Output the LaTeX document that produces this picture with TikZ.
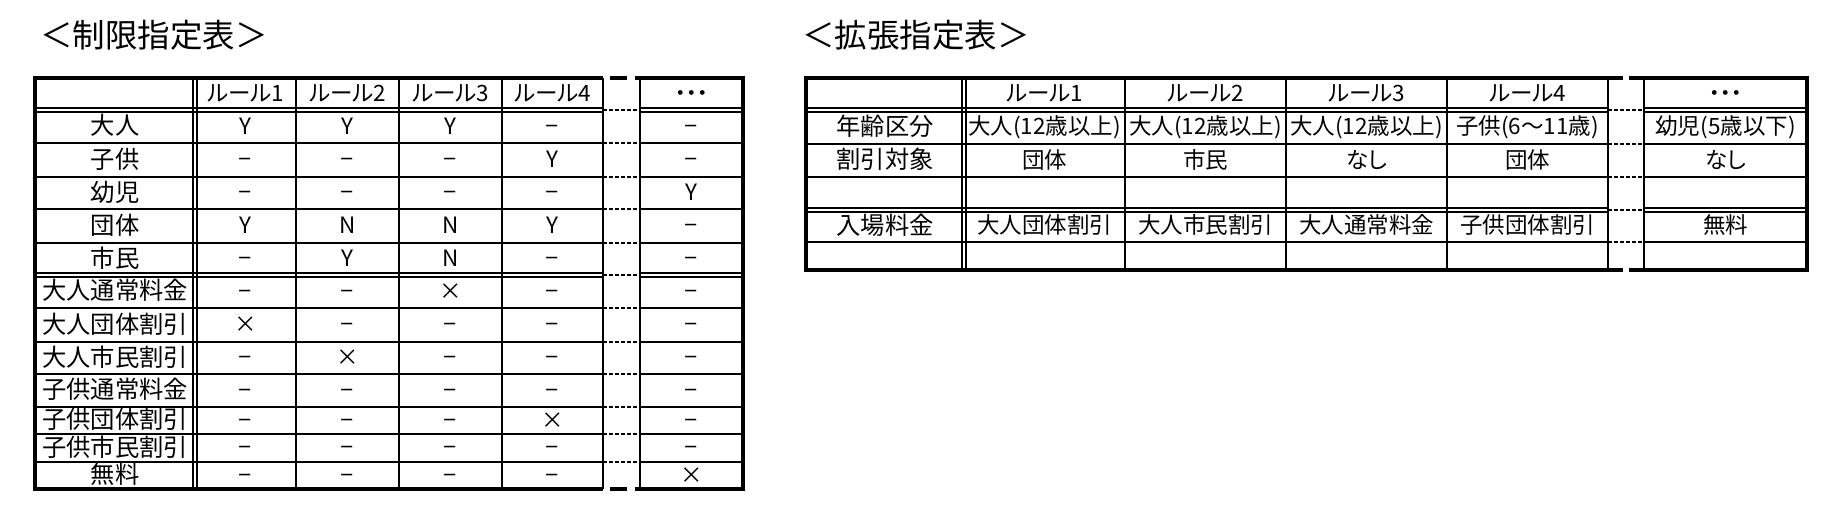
\documentclass[tikz,border=0pt]{standalone}
\usepackage{fontspec}
\setmainfont[RawFeature=+palt]{Noto Sans CJK JP}
\newcommand{\dsh}{\scalebox{0.68}[1]{－}}
\begin{document}
\begin{tikzpicture}[x=1pt,y=-1pt,
  cell/.style={font=\fontsize{22.5}{24}\selectfont, inner sep=0pt, text height=17.5pt, text depth=2.2pt, anchor=center},
  lab/.style={cell, font=\fontsize{24.3}{26}\selectfont, text height=18.9pt, text depth=2.4pt},
  ttl/.style={font=\fontsize{32.5}{34}\selectfont, inner sep=0pt},
  outer/.style={line width=3.4pt, line join=miter},
  inner/.style={line width=2pt},
  dbl/.style={line width=1.3pt},
  gapline/.style={line width=1.5pt, dash pattern=on 4pt off 2pt},
  gapv/.style={line width=2.4pt}]
\useasboundingbox[fill=white] (0,0) rectangle (1837,521);

% titles
\node[ttl] (t1) at (154,35) {＜制限指定表＞};
\node[ttl] (t2) at (916,35) {＜拡張指定表＞};

% ================= left table =================
\foreach \y in {143,177,209,243,308,342,374,407,434,462} {
  \draw[inner] (35,\y) -- (603,\y);
  \draw[inner] (640,\y) -- (743,\y);
  \draw[gapline] (603,\y) -- (640,\y);
}
\foreach \y in {110,275} {
  \draw[dbl] ({35},{\y-2}) -- ({603},{\y-2});
  \draw[dbl] ({35},{\y+2}) -- ({603},{\y+2});
  \draw[dbl] ({640},{\y-2}) -- ({743},{\y-2});
  \draw[dbl] ({640},{\y+2}) -- ({743},{\y+2});
  \draw[gapline] (603,\y) -- (640,\y);
}
\foreach \x in {296,399,502} \draw[inner] (\x,78) -- (\x,489);
\draw[dbl] (193,78) -- (193,489);
\draw[dbl] (197,78) -- (197,489);
\draw[gapv] (603,78) -- (603,489);
\draw[gapv] (640,78) -- (640,489);
\draw[outer] (603,78) -- (35,78) -- (35,489) -- (603,489);
\draw[outer] (640,78) -- (743,78) -- (743,489) -- (640,489);
\draw[outer] (610,78) -- (627,78) (635,78) -- (641,78);
\draw[outer] (610,489) -- (627,489) (635,489) -- (641,489);

% header
\node[cell] (Lh1) at (245.5,94) {ルール1};
\node[cell] (Lh2) at (347.5,94) {ルール2};
\node[cell] (Lh3) at (450.5,94) {ルール3};
\node[cell] (Lh4) at (552.5,94) {ルール4};
\node[cell] (Lh5) at (691.5,94) {・・・};

\foreach \yt/\yb/\lab/\a/\b/\c/\d/\e [count=\i] in {
  110/143/大人/Y/Y/Y/\dsh/\dsh,
  143/177/子供/\dsh/\dsh/\dsh/Y/\dsh,
  177/209/幼児/\dsh/\dsh/\dsh/\dsh/Y,
  209/243/団体/Y/N/N/Y/\dsh,
  243/275/市民/\dsh/Y/N/\dsh/\dsh,
  275/308/大人通常料金/\dsh/\dsh/×/\dsh/\dsh,
  308/342/大人団体割引/×/\dsh/\dsh/\dsh/\dsh,
  342/374/大人市民割引/\dsh/×/\dsh/\dsh/\dsh,
  374/407/子供通常料金/\dsh/\dsh/\dsh/\dsh/\dsh,
  407/434/子供団体割引/\dsh/\dsh/\dsh/×/\dsh,
  434/462/子供市民割引/\dsh/\dsh/\dsh/\dsh/\dsh,
  462/489/無料/\dsh/\dsh/\dsh/\dsh/×} {
  \pgfmathsetmacro\cy{(\yt+\yb)/2}
  \node[lab] (L\i-0) at (115,\cy) {\lab};
  \node[cell] (L\i-1) at (245.5,\cy) {\a};
  \node[cell] (L\i-2) at (347.5,\cy) {\b};
  \node[cell] (L\i-3) at (450.5,\cy) {\c};
  \node[cell] (L\i-4) at (552.5,\cy) {\d};
  \node[cell] (L\i-5) at (691.5,\cy) {\e};
}

% ================= right table =================
\foreach \y in {144,177,242} {
  \draw[inner] (806,\y) -- (1608,\y);
  \draw[inner] (1644,\y) -- (1807,\y);
  \draw[gapline] (1608,\y) -- (1644,\y);
}
\foreach \y in {110,210} {
  \draw[dbl] ({806},{\y-2}) -- ({1608},{\y-2});
  \draw[dbl] ({806},{\y+2}) -- ({1608},{\y+2});
  \draw[dbl] ({1644},{\y-2}) -- ({1807},{\y-2});
  \draw[dbl] ({1644},{\y+2}) -- ({1807},{\y+2});
  \draw[gapline] (1608,\y) -- (1644,\y);
}
\foreach \x in {1125,1286,1447} \draw[inner] (\x,78) -- (\x,270);
\draw[dbl] (962,78) -- (962,270);
\draw[dbl] (966,78) -- (966,270);
\draw[gapv] (1608,78) -- (1608,270);
\draw[gapv] (1644,78) -- (1644,270);
\draw[outer] (1608,78) -- (806,78) -- (806,270) -- (1608,270);
\draw[outer] (1644,78) -- (1807,78) -- (1807,270) -- (1644,270);
\draw[outer] (1607,78) -- (1623,78) (1629,78) -- (1645,78);
\draw[outer] (1607,270) -- (1623,270) (1629,270) -- (1645,270);

\node[cell] (Rh1) at (1044.5,94) {ルール1};
\node[cell] (Rh2) at (1205.5,94) {ルール2};
\node[cell] (Rh3) at (1366.5,94) {ルール3};
\node[cell] (Rh4) at (1527.5,94) {ルール4};
\node[cell] (Rh5) at (1725.5,94) {・・・};

\foreach \yt/\yb/\lab/\a/\b/\c/\d/\e [count=\i] in {
  110/144/{年齢区分}/{大人(12歳以上)}/{大人(12歳以上)}/{大人(12歳以上)}/{子供(6～11歳)}/{幼児(5歳以下)},
  144/177/{割引対象}/{団体}/{市民}/{なし}/{団体}/{なし},
  210/242/{入場料金}/{大人団体割引}/{大人市民割引}/{大人通常料金}/{子供団体割引}/{無料}} {
  \pgfmathsetmacro\cy{(\yt+\yb)/2}
  \node[lab] (R\i-0) at (885,\cy) {\lab};
  \node[cell] (R\i-1) at (1044.5,\cy) {\a};
  \node[cell] (R\i-2) at (1205.5,\cy) {\b};
  \node[cell] (R\i-3) at (1366.5,\cy) {\c};
  \node[cell] (R\i-4) at (1527.5,\cy) {\d};
  \node[cell] (R\i-5) at (1725.5,\cy) {\e};
}
\end{tikzpicture}
\end{document}
